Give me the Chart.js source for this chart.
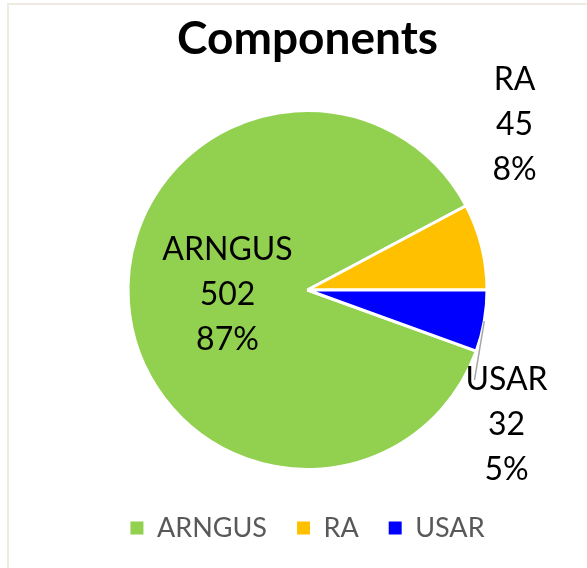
<!DOCTYPE html>
<html>
<head>
<meta charset="utf-8">
<title>Components</title>
<script src="https://cdn.jsdelivr.net/npm/chart.js@4/dist/chart.umd.min.js"></script>
<style>
    body { margin: 0; background: #fff; }
    #wrap { position: relative; width: 587px; height: 568px; overflow: hidden; }
    #frame {
        position: absolute; left: 7px; top: 3px; width: 620px; height: 620px;
        border-left: 2px solid #EEEBE3; border-top: 2px solid #EEEBE3;
        pointer-events: none;
    }
</style>
</head>
<body>
<div id="wrap">
    <canvas id="componentsChart" width="587" height="568"></canvas>
    <div id="frame"></div>
</div>
<script>
// Dados do grafico
const labels = ["ARNGUS", "RA", "USAR"];
const values = [502, 45, 32];
const percents = ["87%", "8%", "5%"];
const colors = ["#92D050", "#FFC000", "#0000FF"];

// Desenha os rotulos (nome, valor, percentual) de cada fatia
const pieLabels = {
    id: "pieLabels",
    afterDatasetsDraw(chart, args, opts) {
        const ctx = chart.ctx;
        const meta = chart.getDatasetMeta(0);
        ctx.save();
        ctx.font = opts.font;
        ctx.fillStyle = "#000";
        ctx.textAlign = "center";
        ctx.textBaseline = "middle";
        meta.data.forEach((arc, i) => {
            const p = arc.getProps(["x", "y", "startAngle", "endAngle", "outerRadius"], true);
            const cx = p.x + opts.offsets[i][0];
            const cy = p.y + opts.offsets[i][1];
            const lines = [labels[i], String(values[i]), percents[i]];
            lines.forEach((t, k) => {
                ctx.fillText(t, cx, cy + (k - 1) * opts.lineGap);
            });
            // linha guia
            if (opts.leader[i]) {
                const mid = (p.startAngle + p.endAngle) / 2;
                ctx.strokeStyle = "#A6A6A6";
                ctx.lineWidth = 1.5;
                ctx.beginPath();
                ctx.moveTo(p.x + Math.cos(mid) * p.outerRadius, p.y + Math.sin(mid) * p.outerRadius);
                ctx.lineTo(cx + opts.leader[i][0], cy + opts.leader[i][1]);
                ctx.stroke();
            }
        });
        ctx.restore();
    }
};

function createChart() {
    const ctx = document.getElementById("componentsChart").getContext("2d");
    Chart.defaults.font.family = "Lato";

    new Chart(ctx, {
        type: "pie",
        data: {
            labels: labels,
            datasets: [
                {
                    data: values,
                    backgroundColor: colors,
                    borderColor: "#fff",
                    borderWidth: 3,
                    radius: 179.5
                }
            ]
        },
        options: {
            responsive: false,
            animation: false,
            rotation: -250.1,
            layout: { padding: { left: 28, right: 0, top: 0, bottom: 16.5 } },
            plugins: {
                tooltip: { enabled: false },
                title: {
                    display: true,
                    text: "Components",
                    color: "#000",
                    font: { size: 46, weight: "bold", lineHeight: 1.2 },
                    padding: { top: 11.4, bottom: 28.9 }
                },
                legend: {
                    position: "bottom",
                    labels: {
                        color: "#595959",
                        font: { size: 27 },
                        boxWidth: 13,
                        boxHeight: 13,
                        padding: 30,
                        generateLabels(chart) {
                            const items = Chart.overrides.pie.plugins.legend.labels.generateLabels(chart);
                            items.forEach(it => { it.lineWidth = 0; });
                            return items;
                        }
                    }
                },
                pieLabels: {
                    font: "32px Lato",
                    lineGap: 45,
                    offsets: [[-80, 5], [207, -165], [199, 135]],
                    leader: [null, null, [-32, -45]]
                }
            }
        },
        plugins: [pieLabels]
    });
}

createChart();
</script>
</body>
</html>
